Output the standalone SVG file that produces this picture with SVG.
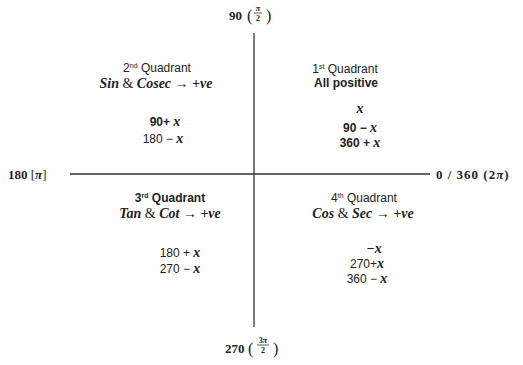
<svg xmlns="http://www.w3.org/2000/svg" width="523" height="365" viewBox="0 0 523 365">
<style>
.s{font-family:"Liberation Sans",Arial,sans-serif;font-size:12px;fill:#222}
.b{font-weight:bold}
.m{font-family:"Liberation Serif","Times New Roman",serif;font-style:italic;font-weight:bold;font-size:14px;fill:#222}
.n{font-family:"Liberation Serif","Times New Roman",serif;font-weight:bold;font-size:13px;fill:#222}
.f{font-family:"Liberation Serif","Times New Roman",serif;font-weight:bold;font-size:8px;fill:#222}
.p{font-family:"Liberation Serif","Times New Roman",serif;font-size:16px;fill:#222}
.ax{stroke:#333;stroke-width:1.3;fill:none}
.fb{stroke:#333;stroke-width:0.8}
</style>
<rect width="523" height="365" fill="#fff"/>
<g id="connectors">
<line class="ax" x1="254" y1="33" x2="254" y2="327"/>
<line class="ax" x1="70" y1="174" x2="430" y2="174"/>
</g>
<g id="label-top">
<text class="n" x="229" y="20">90</text>
<text class="p" x="247" y="21">(</text>
<text class="f" x="258" y="11" text-anchor="middle" font-style="italic">π</text>
<line class="fb" x1="254" y1="13" x2="262" y2="13"/>
<text class="f" x="258" y="21" text-anchor="middle">2</text>
<text class="p" x="266" y="21">)</text>
</g>
<g id="label-bottom">
<text class="n" x="225" y="353">270</text>
<text class="p" x="248" y="354">(</text>
<text class="f" x="263" y="343" text-anchor="middle"><tspan>3</tspan><tspan font-style="italic">π</tspan></text>
<line class="fb" x1="257" y1="345" x2="269" y2="345"/>
<text class="f" x="263" y="353" text-anchor="middle">2</text>
<text class="p" x="273" y="354">)</text>
</g>
<g id="label-left">
<text class="n" x="8" y="179" font-size="14">180 <tspan font-weight="normal">[</tspan><tspan font-style="italic">π</tspan><tspan font-weight="normal">]</tspan></text>
</g>
<g id="label-right">
<text class="n" x="436" y="179" font-size="15" letter-spacing="1">0 / 360 (2<tspan font-style="italic">π</tspan>)</text>
</g>
<g id="q2">
<text class="s" x="157" y="72" text-anchor="middle">2<tspan font-size="7" dy="-4">nd</tspan><tspan dy="4"> Quadrant</tspan></text>
<text class="m" x="156" y="88" text-anchor="middle">Sin <tspan font-weight="normal" font-style="normal">&amp;</tspan> Cosec <tspan font-weight="normal" font-style="normal">→</tspan> +ve</text>
<text class="s b" x="165" y="126" text-anchor="middle">90+ <tspan class="m">x</tspan></text>
<text class="s" x="163" y="143" text-anchor="middle">180 − <tspan class="m">x</tspan></text>
</g>
<g id="q1">
<text class="s" x="345" y="73" text-anchor="middle">1<tspan font-size="7" dy="-4">st</tspan><tspan dy="4"> Quadrant</tspan></text>
<text class="s b" x="346" y="87" text-anchor="middle">All positive</text>
<text class="m" x="360" y="113" text-anchor="middle">x</text>
<text class="s b" x="360" y="132" text-anchor="middle">90 − <tspan class="m">x</tspan></text>
<text class="s b" x="360" y="147" text-anchor="middle">360 + <tspan class="m">x</tspan></text>
</g>
<g id="q3">
<text class="s b" x="170" y="202" text-anchor="middle">3<tspan font-size="7" dy="-4">rd</tspan><tspan dy="4"> Quadrant</tspan></text>
<text class="m" x="170" y="218" text-anchor="middle">Tan <tspan font-weight="normal" font-style="normal">&amp;</tspan> Cot <tspan font-weight="normal" font-style="normal">→</tspan>  +ve</text>
<text class="s" x="180" y="257" text-anchor="middle">180 + <tspan class="m" font-weight="normal">x</tspan></text>
<text class="s" x="180" y="273" text-anchor="middle">270 − <tspan class="m" font-weight="normal">x</tspan></text>
</g>
<g id="q4">
<text class="s" x="364" y="202" text-anchor="middle">4<tspan font-size="7" dy="-4">th</tspan><tspan dy="4"> Quadrant</tspan></text>
<text class="m" x="363" y="218" text-anchor="middle">Cos <tspan font-weight="normal" font-style="normal">&amp;</tspan> Sec <tspan font-weight="normal" font-style="normal">→</tspan>  +ve</text>
<text class="m" x="374" y="253" text-anchor="middle">−x</text>
<text class="s" x="367" y="268" text-anchor="middle">270+<tspan class="m" font-weight="normal">x</tspan></text>
<text class="s" x="367" y="283" text-anchor="middle">360 − <tspan class="m" font-weight="normal">x</tspan></text>
</g>
</svg>
